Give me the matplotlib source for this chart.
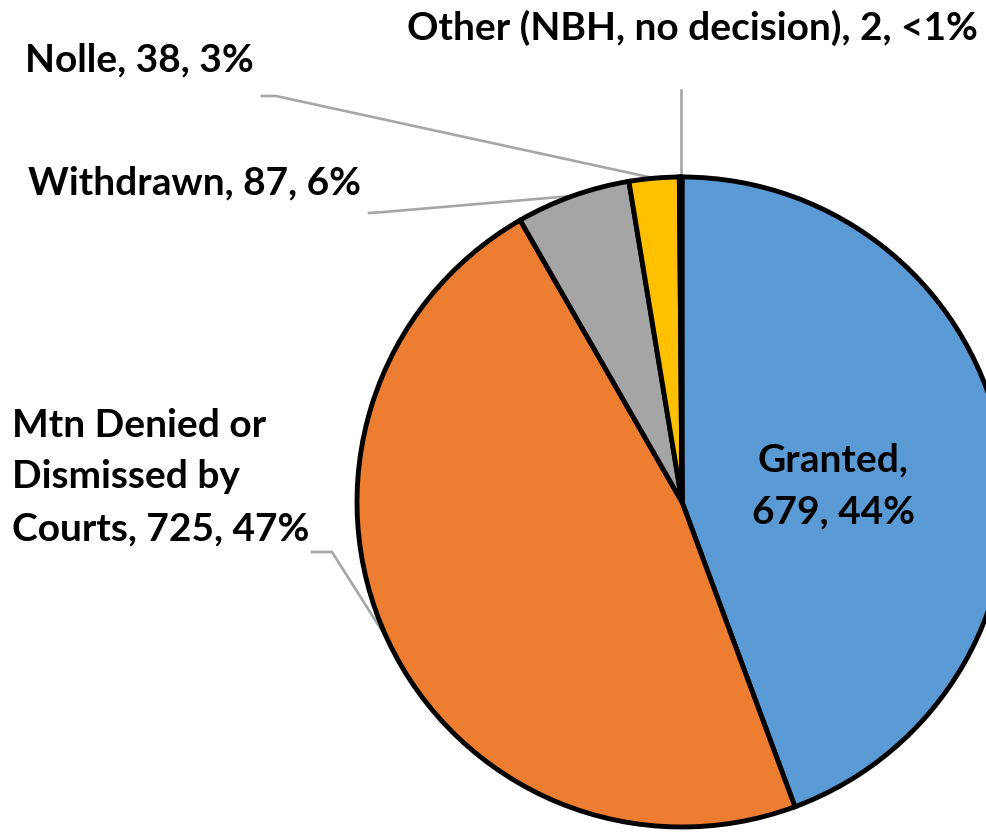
import matplotlib
matplotlib.use("Agg")
import matplotlib.pyplot as plt
import numpy as np

categories = ["Granted", "Mtn Denied or Dismissed by Courts", "Withdrawn", "Nolle", "Other (NBH, no decision)"]
values = [679, 725, 87, 38, 2]
pct_labels = ["44%", "47%", "6%", "3%", "<1%"]
colors = ["#5B9BD5", "#ED7D31", "#A5A5A5", "#FFC000", "#4472C4"]

W, H = 986, 832
fig = plt.figure(figsize=(W / 100, H / 100), dpi=100)
ax = fig.add_axes([0, 0, 1, 1])

cx, cy, R = 682, H - 502, 325
wedges, _ = ax.pie(values, colors=colors, startangle=90, counterclock=False,
                   center=(cx, cy), radius=R, frame=True,
                   wedgeprops=dict(edgecolor="black", linewidth=3.5))
ax.set_xlim(0, W)
ax.set_ylim(0, H)
ax.set_aspect("equal")
ax.axis("off")

FONT = dict(family=["Lato", "DejaVu Sans"], fontweight="bold", fontsize=28, color="black")
LC = "#A6A6A6"


def Y(y):
    return H - y


def edge_point(w, frac=1.0):
    ang = np.deg2rad((w.theta1 + w.theta2) / 2)
    return cx + R * frac * np.cos(ang), cy + R * frac * np.sin(ang)

# Leader lines
ex, ey = edge_point(wedges[4])
ax.plot([ex, ex], [Y(90), ey], color=LC, lw=1.9, zorder=0)
ex, ey = edge_point(wedges[3])
ax.plot([262, 276, ex], [Y(96), Y(96), ey], color=LC, lw=1.9, zorder=0)
ex, ey = edge_point(wedges[2])
ax.plot([369, 384, ex], [Y(213), Y(212), ey], color=LC, lw=1.9, zorder=0)
ex, ey = edge_point(wedges[1])
ax.plot([312, 332, ex], [Y(552), Y(552), ey], color=LC, lw=1.9, zorder=0)

# Labels
ax.text(978, Y(28), f"{categories[4]}, {values[4]}, {pct_labels[4]}", ha="right", va="center", **FONT)
ax.text(25, Y(60), f"{categories[3]}, {values[3]}, {pct_labels[3]}", ha="left", va="center", **FONT)
ax.text(28, Y(183), f"{categories[2]}, {values[2]}, {pct_labels[2]}", ha="left", va="center", **FONT)
ax.text(12, Y(477), f"Mtn Denied or\nDismissed by\nCourts, {values[1]}, {pct_labels[1]}",
        ha="left", va="center", linespacing=1.57, **FONT)
ax.text(833, Y(486), f"{categories[0]},\n{values[0]}, {pct_labels[0]}", ha="center", va="center",
        linespacing=1.57, zorder=5, **FONT)

fig.savefig("out.png", dpi=100)
